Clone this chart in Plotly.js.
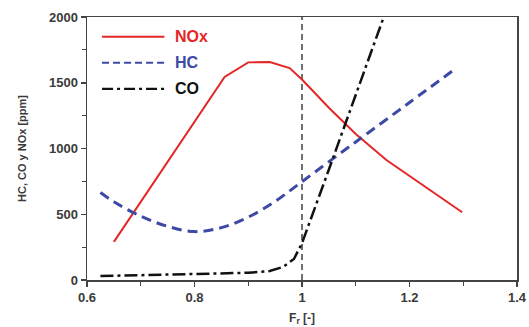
<!DOCTYPE html>
<html>
<head>
<meta charset="utf-8">
<script src="https://cdn.plot.ly/plotly-3.0.1.min.js"></script>
<style>html,body{margin:0;padding:0;background:#fff;}#chart{width:529px;height:327px;}</style>
</head>
<body>
<div id="chart"></div>
<script>
// Data
var noxX = [0.65, 0.70, 0.75, 0.80, 0.856, 0.90, 0.94, 0.977, 1.00, 1.05, 1.10, 1.157, 1.237, 1.298];
var noxY = [290, 595, 900, 1210, 1544, 1655, 1658, 1612, 1525, 1310, 1110, 912, 684, 515];

var hcX = [0.625, 0.65, 0.70, 0.75, 0.80, 0.85, 0.90, 0.95, 1.00, 1.10, 1.20, 1.285];
var hcY = [665, 595, 485, 408, 368, 398, 478, 598, 748, 1050, 1350, 1605];

var coX = [0.625, 0.70, 0.80, 0.90, 0.94, 0.965, 0.985, 1.00, 1.05, 1.10, 1.16];
var coY = [30, 36, 45, 55, 68, 100, 160, 280, 840, 1410, 2090];

var refX = 1.0;            // stoichiometric reference line
var seriesNames = ['NOx', 'HC', 'CO'];
var seriesColors = ['#e32727', '#3d4aa5', '#111111'];
var xTicks = [0.6, 0.8, 1, 1.2, 1.4];
var yTicks = [0, 500, 1000, 1500, 2000];

var dashes = ['solid', '10px,6px', '13px,4px,3px,4px'];
var legDashes = ['solid', '7px,4px', '11px,4px,3px,4px'];
var widths = [2, 3, 2.5];
var xs = [noxX, hcX, coX], ys = [noxY, hcY, coY];

var traces = seriesNames.map(function (n, i) {
  return {
    x: xs[i], y: ys[i], name: n, type: 'scatter', mode: 'lines',
    line: {color: seriesColors[i], width: widths[i], dash: dashes[i], shape: i === 1 ? 'spline' : 'linear'},
    cliponaxis: true, showlegend: false
  };
});

var tickFont = {family: 'Liberation Sans, Arial, sans-serif', size: 13, color: '#3a3a3a', weight: 'bold'};

var shapes = [{
  type: 'line', xref: 'x', yref: 'y', x0: refX, x1: refX, y0: 0, y1: 2000,
  line: {color: '#222', width: 1.3, dash: '6px,4px'}, layer: 'below'
}];
var annotations = [];
// custom legend (upper left, inside plot)
var legY = [0.925, 0.826, 0.727];
seriesNames.forEach(function (n, i) {
  shapes.push({type: 'line', xref: 'paper', yref: 'paper', x0: 0.035, x1: 0.18, y0: legY[i], y1: legY[i],
    line: {color: seriesColors[i], width: 2.2, dash: legDashes[i]}});
  annotations.push({xref: 'paper', yref: 'paper', x: 0.2, y: legY[i], xanchor: 'left', yanchor: 'middle',
    text: '<b>' + n + '</b>', showarrow: false,
    font: {family: 'Liberation Sans, Arial, sans-serif', size: 16, color: seriesColors[i]}});
});

var layout = {
  width: 529, height: 327,
  margin: {l: 87, r: 12, t: 17, b: 47},
  paper_bgcolor: '#fff', plot_bgcolor: '#fff',
  showlegend: false,
  xaxis: {
    range: [0.6, 1.4], tickvals: xTicks, ticktext: xTicks.map(String),
    ticks: 'outside', ticklen: 5, tickwidth: 1.5, tickcolor: '#444',
    minor: {dtick: 0.1, ticks: 'outside', ticklen: 4, tickwidth: 1.2, tickcolor: '#444'},
    showline: true, linecolor: '#444', linewidth: 1.5, mirror: true,
    showgrid: false, zeroline: false, tickfont: tickFont,
    title: {text: '<b>F<sub>r</sub> [-]</b>', font: {family: 'Liberation Sans, Arial, sans-serif', size: 12, color: '#3a3a3a'}, standoff: 9}
  },
  yaxis: {
    range: [0, 2000], tickvals: yTicks, ticktext: yTicks.map(String),
    ticks: 'outside', ticklen: 5, tickwidth: 1.5, tickcolor: '#444',
    minor: {dtick: 250, ticks: 'outside', ticklen: 4, tickwidth: 1.2, tickcolor: '#444'},
    showline: true, linecolor: '#444', linewidth: 1.5, mirror: true,
    showgrid: false, zeroline: false, tickfont: tickFont,
    title: {text: '<b>HC, CO y NOx [ppm]</b>', font: {family: 'Liberation Sans, Arial, sans-serif', size: 11, color: '#3a3a3a'}, standoff: 20}
  },
  shapes: shapes,
  annotations: annotations
};

Plotly.newPlot('chart', traces, layout, {displayModeBar: false, staticPlot: true});
</script>
</body>
</html>
